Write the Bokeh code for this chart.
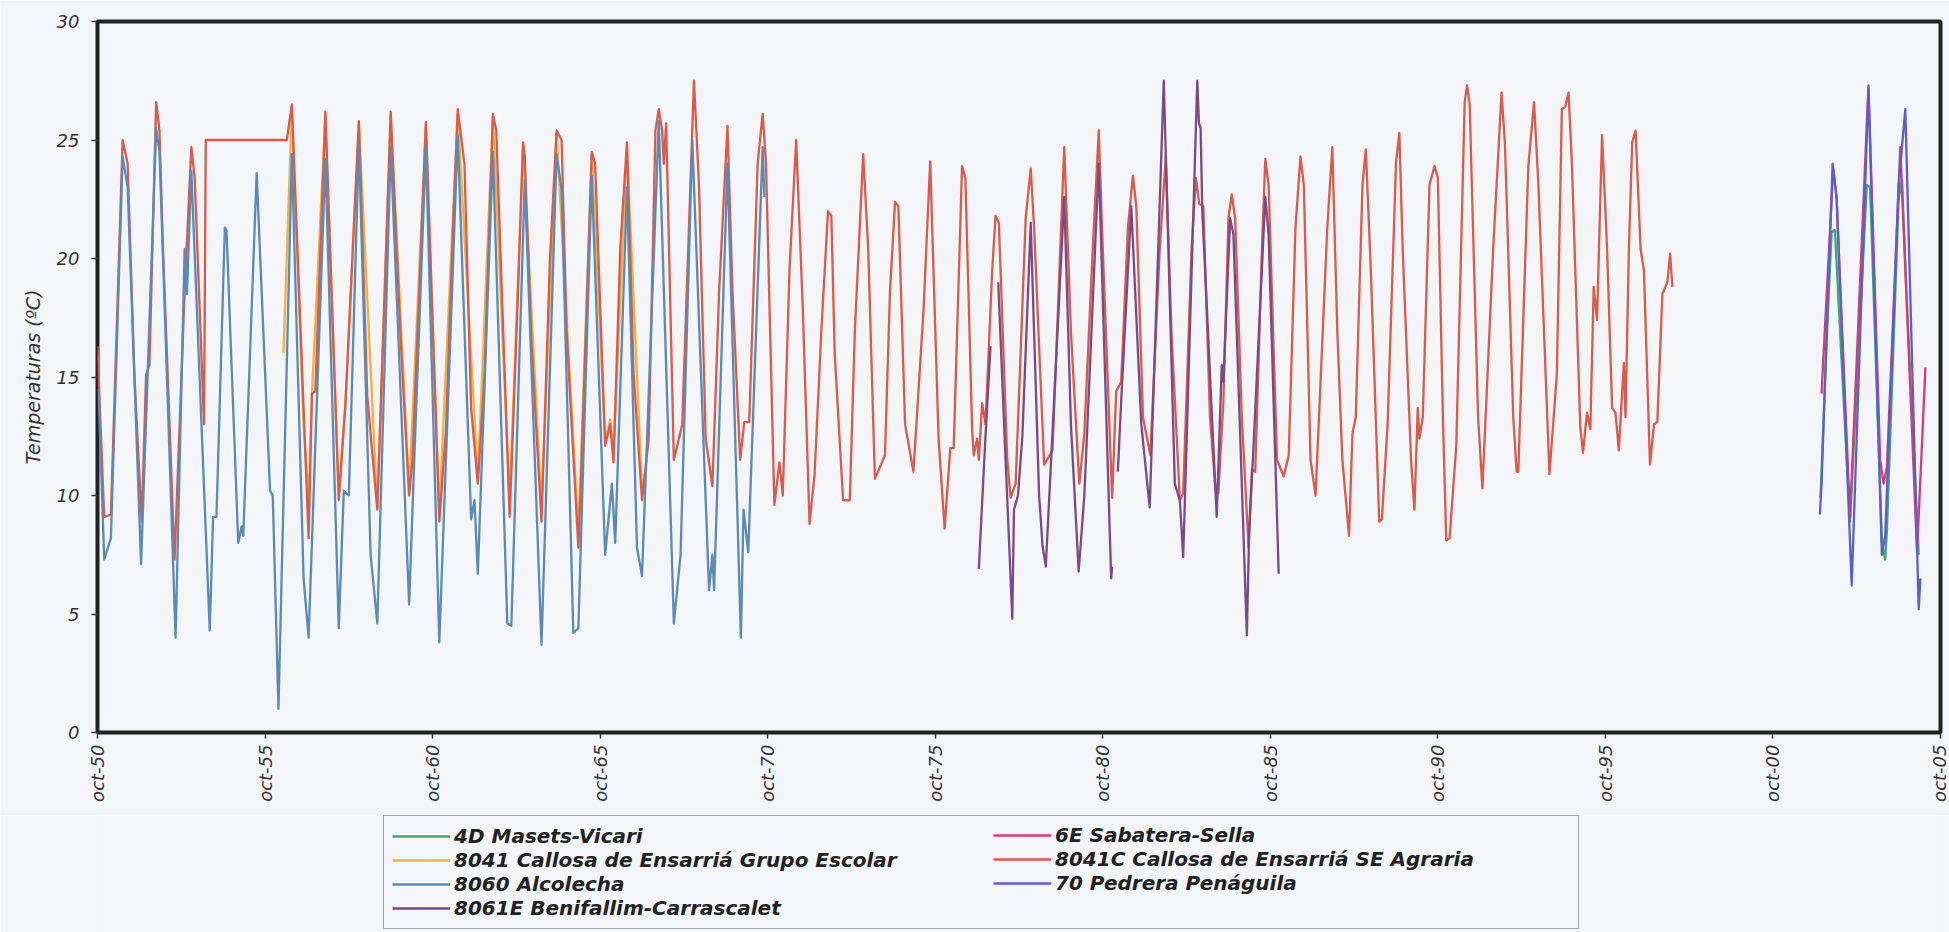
import math
from bokeh.plotting import figure
from bokeh.models import FixedTicker, Legend, LegendItem, ColumnDataSource
from bokeh.layouts import column
from bokeh.embed import file_html
from bokeh.resources import INLINE

nan = float("nan")

# ---------------- data (decimal year, monthly mean temperature in ºC) ----------------
tick_values = [1950.75, 1955.75, 1960.75, 1965.75, 1970.75, 1975.75,
               1980.75, 1985.75, 1990.75, 1995.75, 2000.75, 2005.75]
tick_labels = ["oct-50", "oct-55", "oct-60", "oct-65", "oct-70", "oct-75",
               "oct-80", "oct-85", "oct-90", "oct-95", "oct-00", "oct-05"]
y_ticks = [0, 5, 10, 15, 20, 25, 30]

agraria_8041c = [
    (1950.75, 16.3), (1950.95, 9.1), (1951.15, 9.2), (1951.5, 25.0), (1951.65, 24.0), (1951.85, 15.1),
    (1952.07, 8.9), (1952.2, 15.1), (1952.3, 15.5), (1952.5, 26.6), (1952.6, 25.4), (1952.7, 20.6),
    (1953.05, 7.3), (1953.35, 18.6), (1953.55, 24.7), (1953.65, 23.4), (1953.93, 13.0), (1953.98, 25.0),
    (1956.4, 25.0), (1956.55, 26.5), (1957.05, 8.2), (1957.15, 14.3), (1957.25, 14.4), (1957.45, 22.2),
    (1957.55, 26.2), (1957.95, 9.8), (1958.15, 13.9), (1958.55, 25.8), (1958.8, 14.2), (1959.1, 9.4),
    (1959.5, 26.2), (1959.8, 16.5), (1960.05, 10.0), (1960.15, 11.5), (1960.55, 25.75), (1960.95, 8.9),
    (1961.15, 12.8), (1961.35, 21.0), (1961.5, 26.3), (1961.7, 24.0), (1961.9, 13.7), (1962.1, 10.5),
    (1962.3, 15.1), (1962.55, 26.1), (1962.65, 25.4), (1963.05, 9.1), (1963.3, 18.6), (1963.45, 24.9),
    (1963.5, 24.3), (1963.7, 16.5), (1964.0, 8.9), (1964.25, 19.9), (1964.45, 25.4), (1964.6, 25.0),
    (1964.75, 16.9), (1965.1, 7.8), (1965.2, 11.5), (1965.5, 24.5), (1965.6, 24.0), (1965.9, 12.1),
    (1966.05, 13.0), (1966.15, 11.4), (1966.35, 20.4), (1966.55, 24.9), (1966.75, 15.1), (1967.0, 9.8),
    (1967.2, 12.4), (1967.4, 25.4), (1967.5, 26.3), (1967.6, 25.4), (1967.65, 24.0), (1967.72, 25.7),
    (1967.95, 11.5), (1968.2, 13.0), (1968.55, 27.5), (1968.7, 23.1), (1968.9, 12.4), (1969.1, 10.4),
    (1969.3, 18.6), (1969.55, 25.6), (1969.7, 18.6), (1969.93, 11.5), (1970.05, 13.1), (1970.2, 13.1),
    (1970.45, 24.0), (1970.6, 26.1), (1970.7, 24.0), (1970.95, 9.6), (1971.1, 11.4), (1971.2, 10.0),
    (1971.4, 19.5), (1971.6, 25.0), (1971.8, 17.8), (1972.0, 8.8), (1972.15, 10.9), (1972.35, 16.9),
    (1972.55, 22.0), (1972.65, 21.8), (1972.75, 16.0), (1973.0, 9.8), (1973.2, 9.8), (1973.35, 16.9),
    (1973.6, 24.4), (1973.75, 20.4), (1973.95, 10.7), (1974.1, 11.2), (1974.25, 11.7), (1974.4, 18.6),
    (1974.55, 22.4), (1974.65, 22.2), (1974.85, 13.0), (1975.1, 11.0), (1975.4, 17.8), (1975.6, 24.1),
    (1975.85, 12.4), (1976.03, 8.6), (1976.2, 12.0), (1976.3, 12.0), (1976.55, 23.9), (1976.65, 23.4),
    (1976.85, 12.8), (1976.9, 11.7), (1977.0, 12.4), (1977.05, 11.5), (1977.15, 13.9), (1977.25, 13.0),
    (1977.45, 19.5), (1977.55, 21.8), (1977.65, 21.5), (1977.9, 11.5), (1978.0, 9.9), (1978.15, 10.5),
    (1978.45, 21.7), (1978.6, 23.8), (1978.7, 21.3), (1979.0, 11.3), (1979.25, 11.9), (1979.6, 24.7),
    (1979.8, 16.9), (1980.05, 10.5), (1980.2, 12.6), (1980.45, 20.4), (1980.63, 25.4), (1980.75, 20.4),
    (1981.03, 9.9), (1981.15, 14.4), (1981.3, 14.8), (1981.5, 21.3), (1981.65, 23.5), (1981.75, 22.2),
    (1981.95, 13.3), (1982.17, 11.7), (1982.45, 20.4), (1982.63, 24.3), (1982.8, 16.9), (1983.05, 9.8),
    (1983.15, 10.1), (1983.4, 20.4), (1983.53, 23.4), (1983.63, 22.3), (1983.75, 22.2), (1983.95, 13.3),
    (1984.1, 10.5), (1984.2, 10.1), (1984.35, 14.0), (1984.5, 21.7), (1984.6, 22.7), (1984.7, 21.7),
    (1984.9, 13.3), (1985.1, 7.8), (1985.2, 11.1), (1985.3, 11.0), (1985.5, 20.4), (1985.6, 24.2),
    (1985.7, 23.1), (1985.95, 11.5), (1986.15, 10.8), (1986.3, 11.7), (1986.5, 21.3), (1986.65, 24.3),
    (1986.75, 23.1), (1986.95, 11.5), (1987.1, 10.0), (1987.45, 21.3), (1987.6, 24.7), (1987.75, 16.9),
    (1987.9, 11.5), (1988.1, 8.3), (1988.2, 12.6), (1988.3, 13.3), (1988.5, 23.1), (1988.6, 24.6),
    (1988.75, 19.5), (1989.0, 8.9), (1989.08, 9.0), (1989.25, 13.0), (1989.5, 24.0), (1989.6, 25.3),
    (1989.7, 20.4), (1989.95, 11.5), (1990.05, 9.4), (1990.15, 13.7), (1990.2, 12.4), (1990.3, 13.3),
    (1990.5, 23.1), (1990.65, 23.9), (1990.75, 23.4), (1990.9, 13.3), (1991.0, 8.1), (1991.1, 8.2),
    (1991.3, 12.1), (1991.55, 26.6), (1991.62, 27.3), (1991.7, 26.5), (1991.95, 13.3), (1992.08, 10.3),
    (1992.4, 20.4), (1992.65, 27.0), (1992.75, 24.9), (1993.0, 13.3), (1993.1, 11.0), (1993.15, 11.0),
    (1993.45, 23.9), (1993.62, 26.6), (1993.75, 23.1), (1994.08, 10.9), (1994.3, 15.1), (1994.45, 26.3),
    (1994.55, 26.4), (1994.65, 27.0), (1994.75, 24.0), (1995.0, 12.9), (1995.08, 11.8), (1995.2, 13.5),
    (1995.3, 12.8), (1995.4, 18.8), (1995.5, 17.4), (1995.65, 25.2), (1995.8, 20.4), (1995.95, 13.7),
    (1996.05, 13.5), (1996.15, 11.9), (1996.3, 15.6), (1996.35, 13.3), (1996.45, 20.4), (1996.55, 24.9),
    (1996.65, 25.4), (1996.8, 20.4), (1996.9, 19.5), (1997.08, 11.3), (1997.2, 13.0), (1997.3, 13.1),
    (1997.45, 18.5), (1997.6, 19.0), (1997.68, 20.2), (1997.75, 18.8),
]

escolar_8041 = [
    (1956.3, 16.0), (1956.55, 26.3), (1956.9, 13.0), (1957.05, 9.8), (1957.15, 14.3), (1957.55, 26.0),
    (1957.95, 10.0), (1958.15, 13.9), (1958.55, 25.7), (1959.1, 9.5), (1959.5, 26.0), (1960.05, 10.2),
    (1960.55, 25.6), (1960.95, 9.3), (1961.5, 26.1), (1962.1, 10.7), (1962.55, 26.0), (1963.05, 9.8),
    (1963.45, 24.8), (1964.0, 9.5), (1964.45, 25.3), (1965.1, 8.5), (1965.5, 24.4), (1965.9, 12.3),
    (1966.05, 13.2), (1966.15, 11.8), (1966.55, 24.7), (1967.0, 10.2), (1967.1, 11.0),
]

alcolecha_8060 = [
    (1950.78, 14.5), (1950.95, 7.3), (1951.15, 8.2), (1951.5, 24.3), (1951.65, 23.0), (1952.05, 7.1),
    (1952.5, 25.5), (1952.6, 24.5), (1953.08, 4.0), (1953.35, 20.4), (1953.42, 18.5), (1953.55, 23.7),
    (1954.1, 4.3), (1954.2, 9.1), (1954.3, 9.1), (1954.55, 21.3), (1954.6, 21.2), (1954.95, 8.0),
    (1955.05, 8.7), (1955.1, 8.3), (1955.5, 23.6), (1955.9, 10.2), (1955.98, 10.0), (1956.15, 1.0),
    (1956.55, 24.4), (1956.9, 6.5), (1957.05, 4.0), (1957.55, 24.2), (1957.95, 4.4), (1958.1, 10.2),
    (1958.25, 10.0), (1958.55, 24.9), (1958.9, 7.5), (1959.1, 4.6), (1959.5, 24.7), (1960.05, 5.4),
    (1960.2, 11.4), (1960.55, 24.7), (1960.95, 3.8), (1961.5, 25.2), (1961.9, 9.0), (1962.0, 9.8),
    (1962.1, 6.7), (1962.55, 24.5), (1962.98, 4.6), (1963.1, 4.5), (1963.5, 23.3), (1964.0, 3.7),
    (1964.45, 24.4), (1964.6, 22.9), (1964.95, 4.2), (1965.1, 4.4), (1965.5, 23.5), (1965.9, 7.5),
    (1966.1, 10.5), (1966.2, 8.0), (1966.55, 23.0), (1966.85, 7.8), (1967.0, 6.6), (1967.5, 25.8),
    (1967.95, 4.6), (1968.15, 7.5), (1968.5, 25.0), (1969.0, 6.0), (1969.1, 7.5), (1969.15, 6.0),
    (1969.55, 24.0), (1969.95, 4.0), (1970.03, 9.4), (1970.17, 7.6), (1970.6, 24.7), (1970.65, 22.6),
]

benifallim_8061e = [
    (1977.05, 6.9), (1977.25, 12.5), (1977.4, 16.3), (1977.5, nan), (1977.63, 19.0), (1977.85, 11.5),
    (1978.05, 4.8), (1978.1, 9.4), (1978.22, 10.0), (1978.35, 12.5), (1978.6, 21.5), (1978.85, 10.0),
    (1978.9, 9.0), (1978.95, 7.9), (1979.05, 7.0), (1979.6, 22.6), (1979.8, 13.0), (1980.03, 6.8),
    (1980.2, 10.0), (1980.63, 24.0), (1981.0, 6.5), (1981.03, 7.0), (1981.1, nan), (1981.2, 11.0),
    (1981.3, 14.0), (1981.6, 22.2), (1981.9, 13.0), (1982.15, 9.5), (1982.57, 27.5), (1982.9, 10.5),
    (1983.05, 9.8), (1983.15, 7.4), (1983.57, 27.5), (1983.62, 25.7), (1983.67, 25.5), (1983.72, 22.0),
    (1984.15, 9.1), (1984.3, 15.5), (1984.35, 14.8), (1984.55, 21.7), (1984.65, 21.0), (1985.05, 4.1),
    (1985.12, 8.5), (1985.25, 12.1), (1985.6, 22.6), (1985.7, 21.0), (1986.0, 6.7),
]

masets_4d = [
    (2002.17, 9.9), (2002.35, 16.5), (2002.5, 21.1), (2002.6, 21.2), (2002.75, 17.0), (2003.05, 8.9),
    (2003.55, 23.1), (2003.65, 23.0), (2004.0, 8.0), (2004.1, 7.3), (2004.15, 8.5), (2004.5, 22.5),
    (2004.6, 23.3), (2004.75, 18.0), (2005.1, 7.5),
]

sabatera_6e = [
    (2002.2, 14.3), (2002.55, 23.8), (2002.65, 22.5), (2003.05, 9.1), (2003.6, 27.3), (2003.95, 11.5),
    (2004.05, 10.5), (2004.15, 11.2), (2004.55, 24.7), (2005.05, 7.6), (2005.3, 15.4),
]

pedrera_70 = [
    (2002.15, 9.2), (2002.2, 10.5), (2002.53, 24.0), (2002.65, 22.6), (2003.1, 6.2), (2003.6, 27.2),
    (2004.0, 7.5), (2004.1, 8.3), (2004.5, 23.1), (2004.7, 26.3), (2005.1, 5.2), (2005.15, 6.5),
]

series_colors = {
    "4D Masets-Vicari": "#3FA86F",
    "6E Sabatera-Sella": "#D63B74",
    "8041 Callosa de Ensarriá Grupo Escolar": "#F2B13C",
    "8041C Callosa de Ensarriá SE Agraria": "#DA5A4B",
    "8060 Alcolecha": "#5A8AB6",
    "70 Pedrera Penáguila": "#5B5FCB",
    "8061E Benifallim-Carrascalet": "#7A4A88",
}

series_data = {
    "4D Masets-Vicari": masets_4d,
    "6E Sabatera-Sella": sabatera_6e,
    "8041 Callosa de Ensarriá Grupo Escolar": escolar_8041,
    "8041C Callosa de Ensarriá SE Agraria": agraria_8041c,
    "8060 Alcolecha": alcolecha_8060,
    "70 Pedrera Penáguila": pedrera_70,
    "8061E Benifallim-Carrascalet": benifallim_8061e,
}

draw_order = ["8041 Callosa de Ensarriá Grupo Escolar", "8041C Callosa de Ensarriá SE Agraria",
              "8060 Alcolecha", "8061E Benifallim-Carrascalet", "4D Masets-Vicari",
              "6E Sabatera-Sella", "70 Pedrera Penáguila"]

left_names = ["4D Masets-Vicari", "8041 Callosa de Ensarriá Grupo Escolar",
              "8060 Alcolecha", "8061E Benifallim-Carrascalet"]
right_names = ["6E Sabatera-Sella", "8041C Callosa de Ensarriá SE Agraria", "70 Pedrera Penáguila"]

# ---------------- main chart ----------------
BG = "#F3F5F9"
FONT = "DejaVu Sans"
LW = 2.3

p = figure(width=1949, height=815, x_range=(1950.75, 2005.75), y_range=(0, 30),
           output_backend="svg", toolbar_location=None,
           min_border_left=97, min_border_right=9, min_border_top=21, min_border_bottom=83)
p.background_fill_color = BG
p.border_fill_color = BG
p.outline_line_color = "#222222"
p.outline_line_width = 4
p.xgrid.visible = False
p.ygrid.visible = False

sources = {}
for name in draw_order:
    pts = series_data[name]
    sources[name] = ColumnDataSource(dict(x=[a for a, b in pts], y=[b for a, b in pts]))
    p.line("x", "y", source=sources[name], line_color=series_colors[name],
           line_width=LW, line_join="round")

p.xaxis.ticker = FixedTicker(ticks=tick_values)
p.xaxis.major_label_overrides = {v: l for v, l in zip(tick_values, tick_labels)}
p.xaxis.major_label_orientation = math.pi / 2
p.yaxis.ticker = FixedTicker(ticks=y_ticks)
p.yaxis.axis_label = "Temperaturas (ºC)"
for ax in (p.xaxis[0], p.yaxis[0]):
    ax.axis_line_color = None
    ax.major_tick_out = 6
    ax.major_tick_in = 0
    ax.minor_tick_out = 0
    ax.minor_tick_in = 0
    ax.major_tick_line_color = "#333333"
    ax.major_tick_line_width = 1.5
    ax.major_label_text_font = FONT
    ax.major_label_text_font_style = "italic"
    ax.major_label_text_font_size = "18px"
    ax.major_label_text_color = "#333333"
p.yaxis.major_label_standoff = 12
p.xaxis.major_label_standoff = 6
p.yaxis.axis_label_text_font = FONT
p.yaxis.axis_label_text_font_style = "italic"
p.yaxis.axis_label_text_font_size = "19px"
p.yaxis.axis_label_text_color = "#333333"
p.yaxis.axis_label_standoff = 10

# ---------------- legend strip below the chart ----------------
lf = figure(width=1949, height=117, x_range=(0, 1), y_range=(0, 1),
            output_backend="svg", toolbar_location=None,
            x_axis_type=None, y_axis_type=None,
            min_border_left=0, min_border_right=0, min_border_top=0, min_border_bottom=0)
lf.background_fill_color = BG
lf.border_fill_color = BG
lf.outline_line_color = None
lf.xgrid.visible = False
lf.ygrid.visible = False

# same series, drawn in the strip only to give the legend its swatches (outside the strip's range)
legend_glyphs = {}
for name in series_data:
    legend_glyphs[name] = lf.line("x", "y", source=sources[name],
                                  line_color=series_colors[name], line_width=2.6)

PAD = 8
ROW = 24
FRAME_LEFT = 97  # the strip's frame is aligned with the chart's frame

def make_legend(names, loc, bordered, label_width):
    lg = Legend(items=[LegendItem(label=n, renderers=[legend_glyphs[n]]) for n in names],
                location=loc, orientation="vertical", margin=0, padding=PAD, spacing=0,
                glyph_width=58, glyph_height=ROW, label_height=ROW, label_standoff=4,
                label_width=label_width,
                label_text_font=FONT, label_text_font_style="bold italic",
                label_text_font_size="20px", label_text_color="#222222")
    if bordered:
        lg.border_line_color = "#555555"
        lg.border_line_width = 1.5
        lg.background_fill_color = BG
        lg.background_fill_alpha = 1.0
    else:
        lg.border_line_color = None
        lg.background_fill_alpha = 0.0
    return lg

lf.add_layout(make_legend(left_names, (383 - FRAME_LEFT, 3), True, 1116))
lf.add_layout(make_legend(right_names, (993 - FRAME_LEFT, 37), False, 20))

layout = column(p, lf, spacing=0)
open("out.html", "w").write(file_html(layout, INLINE))
